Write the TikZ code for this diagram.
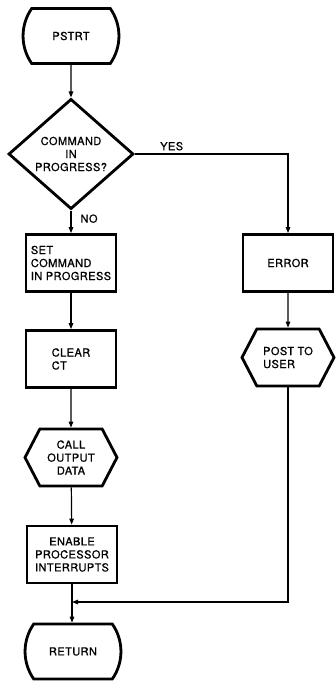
\documentclass[tikz,border=0pt]{standalone}
\usepackage{fontspec}
\setmainfont{TeX Gyre Heros}[FakeBold=0.9, LetterSpace=4]
\usetikzlibrary{shapes.geometric,shapes.misc,shapes.symbols,arrows.meta}
\begin{document}
\begin{tikzpicture}[x=1pt,y=-1pt,
  base/.style={draw, line width=2.8pt, font=\fontsize{11}{13}\selectfont, inner sep=1pt, align=center},
  proc/.style={base, rectangle, minimum width=90pt, minimum height=57pt},
  term/.style={base, rounded rectangle, rounded rectangle arc length=70, minimum width=89pt, minimum height=55pt},
  hexa/.style={base, signal, signal to=west and east, signal pointer angle=125, minimum width=92pt, minimum height=57pt},
  decision/.style={base, diamond, minimum width=125pt, minimum height=89pt},
  flow/.style={line width=1.2pt, -{Triangle[length=6pt,width=4.5pt]}},
  lbl/.style={font=\fontsize{11}{13}\selectfont, inner sep=1pt}]
\useasboundingbox (0,0) rectangle (335,682);
\node[term] (start) at (71,36) {PSTRT};
\node[decision] (dec) at (71,154) {COMMAND\\IN\\PROGRESS?};
\node[proc, align=left] (set) at (71,263) {SET\\COMMAND\\IN PROGRESS};
\node[proc] (err) at (288,263) {ERROR};
\node[proc, align=left] (clear) at (71,359) {CLEAR\\CT};
\node[hexa, align=left] (post) at (288,357.5) {POST TO\\USER};
\node[hexa] (call) at (71,457.5) {CALL\\OUTPUT\\DATA};
\node[proc] (enable) at (72,554.5) {ENABLE\\PROCESSOR\\INTERRUPTS};
\node[term] (ret) at (73,651.5) {RETURN};
\coordinate (merge) at (72,602);
\draw[flow] (start) -- (dec);
\draw[flow] (dec.south) -- (set.north) node[lbl, pos=0.36, anchor=west, xshift=8pt] {NO};
\draw[flow] (dec.east) -| (err.north) node[lbl, pos=0.12, above=2pt] {YES};
\draw[flow] (set) -- (clear);
\draw[flow] (clear) -- (call);
\draw[flow] (call) -- (enable);
\draw[flow] (enable.south) -- (enable.south |- ret.north);
\draw[flow] (err) -- (post);
\draw[flow] (post.south) |- (merge);
\end{tikzpicture}
\end{document}
